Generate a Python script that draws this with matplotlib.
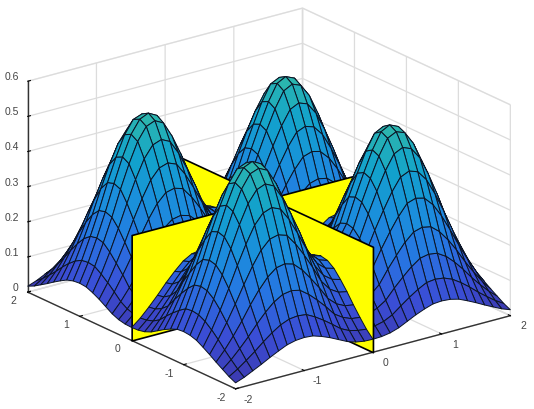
import numpy as np
import matplotlib
matplotlib.use("Agg")
import matplotlib.pyplot as plt
from matplotlib.colors import LinearSegmentedColormap
from mpl_toolkits.mplot3d import proj3d
from mpl_toolkits.mplot3d.art3d import Poly3DCollection

plt.rcParams['font.family'] = ['Liberation Sans', 'DejaVu Sans']
plt.rcParams['grid.color'] = '#dcdcdc'
plt.rcParams['grid.linewidth'] = 0.9

# grid positions, 0..2 (mirrored for the negative side)
half_grid = [0, .125, .25, .375, .5, .625, .75, .875, 1, 1.125, 1.25, 1.375, 1.5, 1.625, 1.75, 1.875, 2]

# surface height for one quadrant, the others are mirror images
z_quadrant = [
    [.080, .083, .092, .109, .136, .160, .183, .200, .205, .201, .187, .164, .138, .109, .082, .057, .037],
    [.083, .086, .096, .113, .141, .166, .190, .208, .213, .209, .194, .171, .143, .113, .085, .060, .038],
    [.092, .096, .106, .125, .156, .185, .210, .230, .236, .232, .215, .189, .158, .125, .095, .066, .042],
    [.109, .113, .125, .147, .184, .217, .248, .271, .278, .273, .253, .223, .187, .147, .111, .078, .050],
    [.136, .141, .156, .184, .229, .271, .309, .339, .347, .341, .316, .278, .233, .184, .139, .097, .062],
    [.160, .166, .185, .217, .271, .320, .365, .400, .410, .402, .374, .328, .275, .217, .164, .115, .074],
    [.183, .190, .210, .248, .309, .365, .416, .456, .468, .459, .426, .374, .313, .248, .187, .131, .084],
    [.200, .208, .230, .271, .339, .400, .456, .500, .513, .503, .467, .410, .344, .271, .205, .144, .092],
    [.205, .213, .236, .278, .347, .410, .468, .513, .526, .515, .479, .421, .352, .278, .210, .147, .094],
    [.201, .209, .232, .273, .341, .402, .459, .503, .515, .506, .469, .412, .346, .273, .206, .144, .092],
    [.187, .194, .215, .253, .316, .374, .426, .467, .479, .469, .436, .383, .321, .253, .191, .134, .086],
    [.164, .171, .189, .223, .278, .328, .374, .410, .421, .412, .383, .336, .282, .223, .168, .118, .075],
    [.138, .143, .158, .187, .233, .275, .313, .344, .352, .346, .321, .282, .236, .187, .141, .099, .063],
    [.109, .113, .125, .147, .184, .217, .248, .271, .278, .273, .253, .223, .187, .147, .111, .078, .050],
    [.082, .085, .095, .111, .139, .164, .187, .205, .210, .206, .191, .168, .141, .111, .084, .059, .038],
    [.057, .060, .066, .078, .097, .115, .131, .144, .147, .144, .134, .118, .099, .078, .059, .041, .026],
    [.037, .038, .042, .050, .062, .074, .084, .092, .094, .092, .086, .075, .063, .050, .038, .026, .017],
]

plane_height = 0.3
axis_ticks = [-2, -1, 0, 1, 2]
axis_tick_labels = ['-2', '-1', '0', '1', '2']
z_ticks = [0, 0.1, 0.2, 0.3, 0.4, 0.5, 0.6]
z_tick_labels = ['0', '0.1', '0.2', '0.3', '0.4', '0.5', '0.6']

cmap = LinearSegmentedColormap.from_list('surf', [
    (0.0, '#3d36a8'), (0.2, '#3a4ed6'), (0.4, '#2676e2'),
    (0.6, '#1a8fdc'), (0.8, '#12a2cc'), (1.0, '#2fb8aa')])
YELLOW = '#ffff00'
TEXT = '#444444'


def quadrant(ax, sx, sy, order):
    """One quadrant of the surface, sx and sy give the sign of x and y"""
    g = np.array(half_grid)
    z = np.array(z_quadrant)
    polys, faces = [], []
    for i in range(len(g) - 1):
        for j in range(len(g) - 1):
            polys.append([(sx * g[j], sy * g[i], z[i, j]), (sx * g[j + 1], sy * g[i], z[i, j + 1]),
                          (sx * g[j + 1], sy * g[i + 1], z[i + 1, j + 1]), (sx * g[j], sy * g[i + 1], z[i + 1, j])])
            faces.append(cmap(z[i:i + 2, j:j + 2].mean() / 0.53))
    coll = Poly3DCollection(polys, facecolors=faces, edgecolors='#0c1424', linewidths=0.7, zorder=order)
    ax.add_collection3d(coll, autolim=False)
    coll.set_clip_on(False)


def plane(ax, corners, order):
    coll = Poly3DCollection([corners], facecolors=YELLOW, edgecolors='k', linewidths=1.2, zorder=order)
    ax.add_collection3d(coll, autolim=False)
    coll.set_clip_on(False)


def add_tick_text(fig, ax):
    """Tick labels as figure text, the pad of a 3D axis only moves them along the tick"""
    fig.canvas.draw()
    end = half_grid[-1]
    width, height = fig.canvas.get_width_height()

    def put(x, y, z, label, dx, dy, ha):
        px, py, _ = proj3d.proj_transform(x, y, z, ax.get_proj())
        sx, sy = ax.transData.transform((px, py))
        fig.text((sx + dx) / width, (sy + dy) / height, label, fontsize=7.5, color=TEXT, ha=ha, va='center')

    for t, label in zip(axis_ticks, axis_tick_labels):
        put(t, -end, 0, label, 13, -10, 'center')
        put(-end, t, 0, label, -14, -8, 'center')
    for t, label in zip(z_ticks, z_tick_labels):
        put(-end, end, t, label, -9, 4.5, 'right')


def style_axes(ax):
    ax.set_xlim(-2, 2)
    ax.set_ylim(-2, 2)
    ax.set_zlim(0, 0.6)
    ax.set_xticks(axis_ticks)
    ax.set_yticks(axis_ticks)
    ax.set_zticks(z_ticks)
    ax.set_xticklabels([])
    ax.set_yticklabels([])
    ax.set_zticklabels([])
    for axis in (ax.xaxis, ax.yaxis, ax.zaxis):
        axis.pane.set_facecolor((1, 1, 1, 0))
        axis.pane.set_edgecolor('#dcdcdc')
        axis.line.set_color('#333333')
        axis.line.set_linewidth(1.0)
        axis._axinfo['tick']['color'] = '#333333'
        axis._axinfo['tick']['inward_factor'] = 0.0
        axis._axinfo['tick']['outward_factor'] = 0.12
    ax.grid(True)


fig = plt.figure(figsize=(5.34, 4.10), dpi=100)
ax = fig.add_axes([-3.5 / 534, 0, 1, 1], projection='3d', proj_type='ortho')
ax.view_init(elev=20.6, azim=-127.1)
ax.set_box_aspect((1, 1, 0.654), zoom=1.271)
ax.computed_zorder = False
style_axes(ax)

# viewer sits on the -x, -y side, so draw back to front around the two planes
end = half_grid[-1]
quadrant(ax, 1, 1, 2)
plane(ax, [(0, 0, 0), (end, 0, 0), (end, 0, plane_height), (0, 0, plane_height)], 3)
quadrant(ax, 1, -1, 4)
plane(ax, [(0, -end, 0), (0, end, 0), (0, end, plane_height), (0, -end, plane_height)], 5)
quadrant(ax, -1, 1, 6)
plane(ax, [(-end, 0, 0), (0, 0, 0), (0, 0, plane_height), (-end, 0, plane_height)], 7)
quadrant(ax, -1, -1, 8)

add_tick_text(fig, ax)
fig.savefig('out.png', dpi=100)
